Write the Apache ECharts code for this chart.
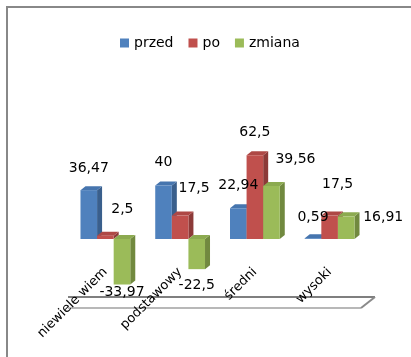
<!DOCTYPE html>
<html>
<head>
<meta charset="utf-8">
<script src="https://cdn.jsdelivr.net/npm/echarts@6/dist/echarts.min.js"></script>
<style>
  html, body { margin: 0; padding: 0; background: #fff; }
  #chart { width: 411px; height: 357px; }
</style>
</head>
<body>
<div id="chart"></div>
<script>
// Poziom wiedzy: przed / po / zmiana
const categories = ['niewiele wiem', 'podstawowy', 'średni', 'wysoki'];
const seriesNames = ['przed', 'po', 'zmiana'];
const przed = [36.47, 40, 22.94, 0.59];
const po = [2.5, 17.5, 62.5, 17.5];
const zmiana = [-33.97, -22.5, 39.56, 16.91];

// Face colours for the pseudo-3D columns: [front, side, top]
const palette = [
  ['#4F81BD', '#3A5F8C', '#4675AE'],
  ['#C0504D', '#8C3A38', '#AE4845'],
  ['#9BBB59', '#71893F', '#8CAA50']
];

// Extra nudges for the value labels, per series and category (px)
const labelNudge = [
  [[0, 0], [0, -1], [0, -1], [0, 1]],
  [[17, -4], [14, -5], [0, -1], [8, -9]],
  [[0, -2], [0, 6], [24, -5], [37, 23]]
];

const DEPTH_X = 5, DEPTH_Y = -4;
const FONT = 'DejaVu Sans';

function fmt(v) { return String(v).replace('.', ','); }

// Geometry of one column inside its category band
function columnBox(api, sIdx) {
  const c = api.value(0);
  const v = api.value(1);
  const base = api.coord([c, 0]);
  const tip = api.coord([c, v]);
  const band = api.size([1, 0])[0];
  const w = band * 0.222;
  return {
    c: c, v: v, w: w,
    x: base[0] - 1.5 * w + sIdx * w,
    yTop: Math.min(base[1], tip[1]),
    yBot: Math.max(base[1], tip[1])
  };
}

function columnRenderer(sIdx) {
  return function (params, api) {
    const b = columnBox(api, sIdx);
    const col = palette[sIdx];
    const x = b.x, w = b.w, yTop = b.yTop, yBot = b.yBot;
    return {
      type: 'group',
      children: [
        {
          type: 'polygon',
          shape: { points: [[x + w, yTop], [x + w + DEPTH_X, yTop + DEPTH_Y], [x + w + DEPTH_X, yBot + DEPTH_Y], [x + w, yBot]] },
          style: { fill: col[1] }
        },
        {
          type: 'polygon',
          shape: { points: [[x, yTop], [x + DEPTH_X, yTop + DEPTH_Y], [x + w + DEPTH_X, yTop + DEPTH_Y], [x + w, yTop]] },
          style: { fill: col[2] }
        },
        {
          type: 'rect',
          shape: { x: x, y: yTop, width: w, height: yBot - yTop },
          style: { fill: col[0] }
        }
      ]
    };
  };
}

function labelRenderer(sIdx) {
  return function (params, api) {
    const b = columnBox(api, sIdx);
    const nudge = labelNudge[sIdx][b.c];
    return {
      type: 'text',
      style: {
        x: b.x + b.w / 2 + nudge[0],
        y: (b.v >= 0 ? b.yTop - 22 : b.yBot + 10) + nudge[1],
        text: fmt(b.v),
        fill: '#000', font: '14px "' + FONT + '"',
        align: 'center', verticalAlign: 'middle'
      }
    };
  };
}

function floorRenderer(params, api) {
  const cs = params.coordSys;
  const yFront = cs.y + cs.height + 2;
  const yBack = yFront - 11;
  const xl = cs.x;
  const xrFront = cs.x + cs.width - 6;
  const xrBack = cs.x + cs.width + 8;
  return {
    type: 'group',
    children: [
      { type: 'line', shape: { x1: xl, y1: yBack, x2: xrBack, y2: yBack }, style: { stroke: '#7f7f7f', lineWidth: 2 } },
      { type: 'line', shape: { x1: xl, y1: yFront, x2: xrFront, y2: yFront }, style: { stroke: '#b8b8b8', lineWidth: 2 } },
      { type: 'line', shape: { x1: xrBack, y1: yBack, x2: xrFront, y2: yFront }, style: { stroke: '#8a8a8a', lineWidth: 2 } }
    ]
  };
}

const values = [przed, po, zmiana];
const series = [{
  type: 'custom',
  name: 'floor',
  renderItem: floorRenderer,
  data: [[0, -50]],
  z: 1,
  silent: true,
  legendHoverLink: false
}];
seriesNames.forEach(function (name, i) {
  const data = values[i].map(function (v, k) { return [k, v]; });
  series.push({
    type: 'custom',
    name: name,
    renderItem: columnRenderer(i),
    data: data,
    itemStyle: { color: palette[i][0] },
    z: 2 + i
  });
  series.push({
    type: 'custom',
    name: name,
    renderItem: labelRenderer(i),
    data: data,
    itemStyle: { color: palette[i][0] },
    z: 10
  });
});

const chart = echarts.init(document.getElementById('chart'), null, { renderer: 'canvas' });
chart.setOption({
  animation: false,
  backgroundColor: '#fff',
  textStyle: { fontFamily: FONT },
  legend: {
    data: seriesNames,
    left: 120,
    top: 36,
    padding: 0,
    icon: 'rect',
    itemWidth: 9,
    itemHeight: 9,
    itemGap: 15,
    textStyle: { fontFamily: FONT, fontSize: 14, color: '#000' }
  },
  grid: { left: 68, right: 44, top: 105, bottom: 51, containLabel: false, outerBoundsMode: 'none' },
  xAxis: {
    type: 'category',
    data: categories,
    z: 6,
    axisLine: { show: false },
    axisTick: { show: false },
    axisLabel: {
      rotate: 45,
      margin: -36,
      interval: 0,
      fontFamily: FONT,
      fontSize: 13,
      color: '#000'
    }
  },
  yAxis: {
    type: 'value',
    min: -50,
    max: 100,
    interval: 50,
    show: false,
    splitLine: { show: false }
  },
  graphic: [{
    type: 'polyline',
    shape: { points: [[7, 357], [7, 7], [411, 7]] },
    style: { stroke: '#888', lineWidth: 2, fill: null },
    z: 100
  }],
  series: series
});
</script>
</body>
</html>
